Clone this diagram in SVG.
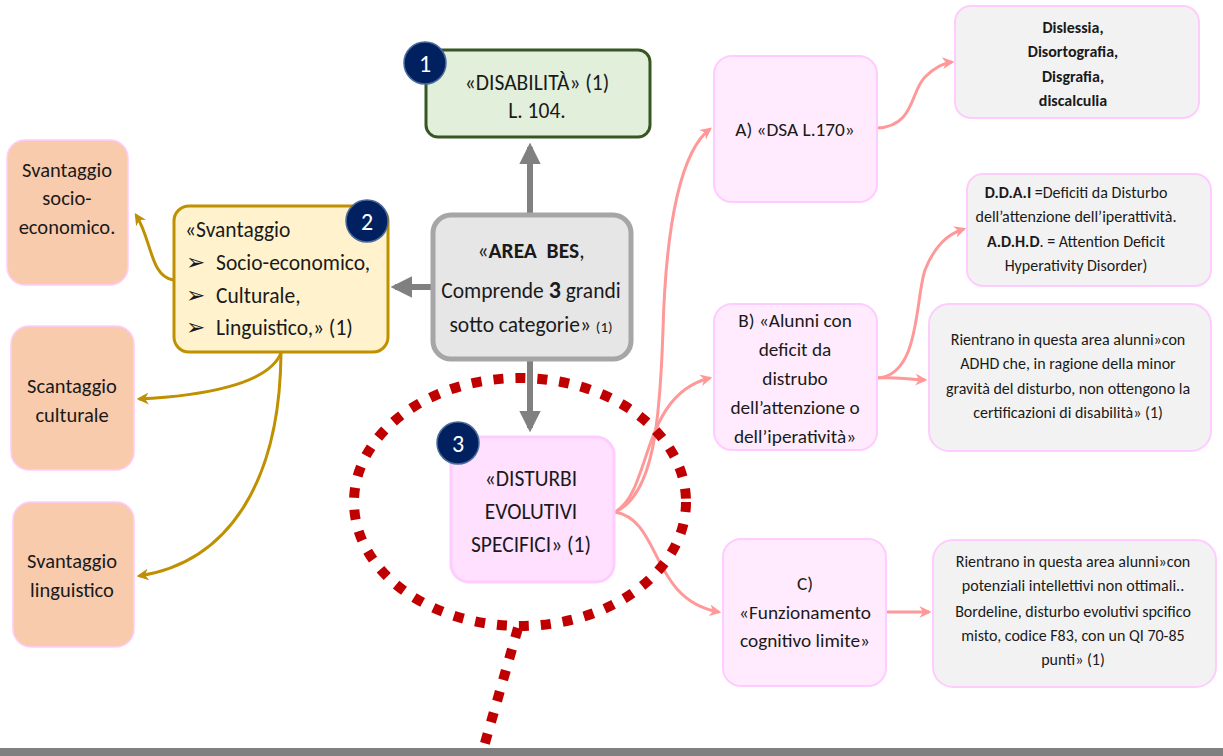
<svg xmlns="http://www.w3.org/2000/svg" width="1223" height="756" viewBox="0 0 1223 756">
<defs>
<style>
text{font-family:Carlito,"Liberation Sans Narrow","Open Sans","Liberation Sans",sans-serif;fill:#1a1a1a;text-anchor:middle}
.m{font-size:21.5px}
.l{font-size:20.5px}
.r{font-size:19.3px}
.s{font-size:16px}
.b{font-weight:bold}
.st{text-anchor:start}
.badge{fill:#002060;stroke:#4a6a9a;stroke-width:1.5}
.bt{fill:#fff;font-size:24px}
.peach{fill:#f8cbad;stroke:#ffccff;stroke-width:1.5}
.pink{fill:#ffebfd;stroke:#ffccff;stroke-width:2}
.gray{fill:#f2f2f2;stroke:#ffccff;stroke-width:2}
.gc{fill:none;stroke:#808080;stroke-width:6}
.yc{fill:none;stroke:#bf9000;stroke-width:3}
.pc{fill:none;stroke:#ff9999;stroke-width:3}
</style>
<marker id="ag" viewBox="0 0 10 10" refX="8" refY="5" markerWidth="3.6" markerHeight="3.6" orient="auto" markerUnits="strokeWidth"><path d="M0,0 L10,5 L0,10 z" fill="#808080"/></marker>
<marker id="ay" viewBox="0 0 10 10" refX="8" refY="5" markerWidth="4" markerHeight="4" orient="auto" markerUnits="strokeWidth"><path d="M0,0 L10,5 L0,10 L3,5 z" fill="#bf9000"/></marker>
<marker id="ap" viewBox="0 0 10 10" refX="8" refY="5" markerWidth="4" markerHeight="4" orient="auto" markerUnits="strokeWidth"><path d="M0,0 L10,5 L0,10 L3,5 z" fill="#ff9999"/></marker>
</defs>
<rect x="0" y="0" width="1223" height="756" fill="#fff"/>

<g id="connectors">
<path class="gc" d="M530,213 L530,147" marker-end="url(#ag)"/>
<path class="gc" d="M431,287 L395,287" marker-end="url(#ag)"/>
<path class="gc" d="M530,360 L530,428" marker-end="url(#ag)"/>
<path class="yc" d="M173,280 C150,276 152,240 136,215" marker-end="url(#ay)"/>
<path class="yc" d="M281,353 C268,385 200,396 139,399" marker-end="url(#ay)"/>
<path class="yc" d="M281,353 C280,480 230,562 139,576" marker-end="url(#ay)"/>
<path class="pc" d="M615,512 C654,495 660,420 663,330 C666,220 682,150 710,129" marker-end="url(#ap)"/>
<path class="pc" d="M615,512 C652,492 640,395 710,378" marker-end="url(#ap)"/>
<path class="pc" d="M615,512 C662,520 650,600 719,612" marker-end="url(#ap)"/>
<path class="pc" d="M877,128 C915,126 910,92 925,77 C935,67 944,63 952,62" marker-end="url(#ap)"/>
<path class="pc" d="M877,378 C920,376 915,300 925,270 C935,245 948,234 964,229" marker-end="url(#ap)"/>
<path class="pc" d="M877,378 C895,377 905,379 925,380" marker-end="url(#ap)"/>
<path class="pc" d="M886,612 L929,612" marker-end="url(#ap)"/>
</g>

<g id="n1">
<rect x="426" y="50" width="224" height="87" rx="12" fill="#e2efda" stroke="#375623" stroke-width="3"/>
<text class="m" x="537" y="90">«DISABILITÀ» (1)</text>
<text class="m" x="537" y="118">L. 104.</text>
<circle class="badge" cx="425" cy="63" r="21"/>
<text class="bt" x="425" y="72">1</text>
</g>

<g id="center">
<rect x="433" y="215" width="198" height="144" rx="18" fill="#e6e6e6" stroke="#a6a6a6" stroke-width="5"/>
<text class="m" x="531" y="258">«<tspan class="b" style="white-space:pre">AREA  BES</tspan>,</text>
<text class="m" x="531" y="298">Comprende <tspan class="b" style="font-size:24px">3</tspan> grandi</text>
<text class="m" x="531" y="332">sotto categorie» <tspan style="font-size:15px">(1)</tspan></text>
</g>

<g id="n2">
<rect x="174" y="206" width="214" height="146" rx="15" fill="#fff2cc" stroke="#bf9000" stroke-width="3"/>
<text class="m st" x="185" y="237">«Svantaggio</text>
<text class="m st" x="186" y="270" style="font-size:23px">➢</text>
<text class="m st" x="216" y="270">Socio-economico,</text>
<text class="m st" x="186" y="303" style="font-size:23px">➢</text>
<text class="m st" x="216" y="303">Culturale,</text>
<text class="m st" x="186" y="335" style="font-size:23px">➢</text>
<text class="m st" x="216" y="335">Linguistico,» (1)</text>
<circle class="badge" cx="367" cy="221" r="21"/>
<text class="bt" x="367" y="230">2</text>
</g>

<g id="l1">
<rect class="peach" x="7" y="140" width="121" height="145" rx="18"/>
<text class="l" x="67" y="177">Svantaggio</text>
<text class="l" x="67" y="205">socio-</text>
<text class="l" x="67" y="234">economico.</text>
</g>
<g id="l2">
<rect class="peach" x="11" y="326" width="123" height="144" rx="18"/>
<text class="l" x="72" y="393">Scantaggio</text>
<text class="l" x="72" y="422">culturale</text>
</g>
<g id="l3">
<rect class="peach" x="13" y="502" width="121" height="145" rx="18"/>
<text class="l" x="72" y="568">Svantaggio</text>
<text class="l" x="72" y="597">linguistico</text>
</g>

<g id="n3">
<rect x="451" y="437" width="163" height="145" rx="18" fill="#ffe0ff" stroke="#ffccff" stroke-width="3"/>
<text class="m" x="531" y="486">«DISTURBI</text>
<text class="m" x="531" y="519">EVOLUTIVI</text>
<text class="m" x="531" y="552">SPECIFICI» (1)</text>
<circle class="badge" cx="458" cy="443" r="21"/>
<text class="bt" x="458" y="452">3</text>
</g>

<g id="a">
<rect class="pink" x="714" y="56" width="163" height="146" rx="18"/>
<text class="r" x="795" y="136">A) «DSA L.170»</text>
</g>
<g id="b">
<rect class="pink" x="714" y="304" width="163" height="146" rx="18"/>
<text class="r" x="795" y="327">B) «Alunni con</text>
<text class="r" x="795" y="356">deficit da</text>
<text class="r" x="795" y="385">distrubo</text>
<text class="r" x="795" y="414">dell’attenzione o</text>
<text class="r" x="795" y="443">dell’iperatività»</text>
</g>
<g id="c">
<rect class="pink" x="723" y="539" width="163" height="147" rx="18"/>
<text class="r" x="805" y="590">C)</text>
<text class="r" x="805" y="619">«Funzionamento</text>
<text class="r" x="805" y="647">cognitivo limite»</text>
</g>

<g id="ga">
<rect class="gray" x="955" y="6" width="244" height="112" rx="16"/>
<text class="s b" x="1073" y="33">Dislessia,</text>
<text class="s b" x="1073" y="57">Disortografia,</text>
<text class="s b" x="1073" y="82">Disgrafia,</text>
<text class="s b" x="1073" y="106">discalculia</text>
</g>
<g id="gb1">
<rect class="gray" x="967" y="174" width="244" height="112" rx="16"/>
<text class="s" x="1076" y="198"><tspan class="b">D.D.A.I</tspan> =Deficiti da Disturbo</text>
<text class="s" x="1076" y="222">dell’attenzione dell’iperattività.</text>
<text class="s" x="1076" y="247"><tspan class="b">A.D.H.D</tspan>. = Attention Deficit</text>
<text class="s" x="1076" y="271">Hyperativity Disorder)</text>
</g>
<g id="gb2">
<rect class="gray" x="929" y="304" width="282" height="147" rx="20"/>
<text class="s" x="1068" y="345">Rientrano in questa area alunni»con</text>
<text class="s" x="1068" y="369">ADHD che, in ragione della minor</text>
<text class="s" x="1068" y="394">gravità del disturbo, non ottengono la</text>
<text class="s" x="1068" y="418">certificazioni di disabilità» (1)</text>
</g>
<g id="gc">
<rect class="gray" x="933" y="540" width="283" height="147" rx="20"/>
<text class="s" x="1073" y="567">Rientrano in questa area alunni»con</text>
<text class="s" x="1073" y="591">potenziali intellettivi non ottimali..</text>
<text class="s" x="1073" y="617">Bordeline, disturbo evolutivi spcifico</text>
<text class="s" x="1073" y="641">misto, codice F83, con un QI 70-85</text>
<text class="s" x="1073" y="665">punti» (1)</text>
</g>

<g id="highlight">
<ellipse cx="520" cy="502" rx="166" ry="124" fill="none" stroke="#c00000" stroke-width="10" stroke-dasharray="10 12"/>
<path d="M518,628 L483,750" fill="none" stroke="#c00000" stroke-width="10" stroke-dasharray="10 12"/>
</g>
<rect x="0" y="748" width="1223" height="8" fill="#808080"/>
</svg>
